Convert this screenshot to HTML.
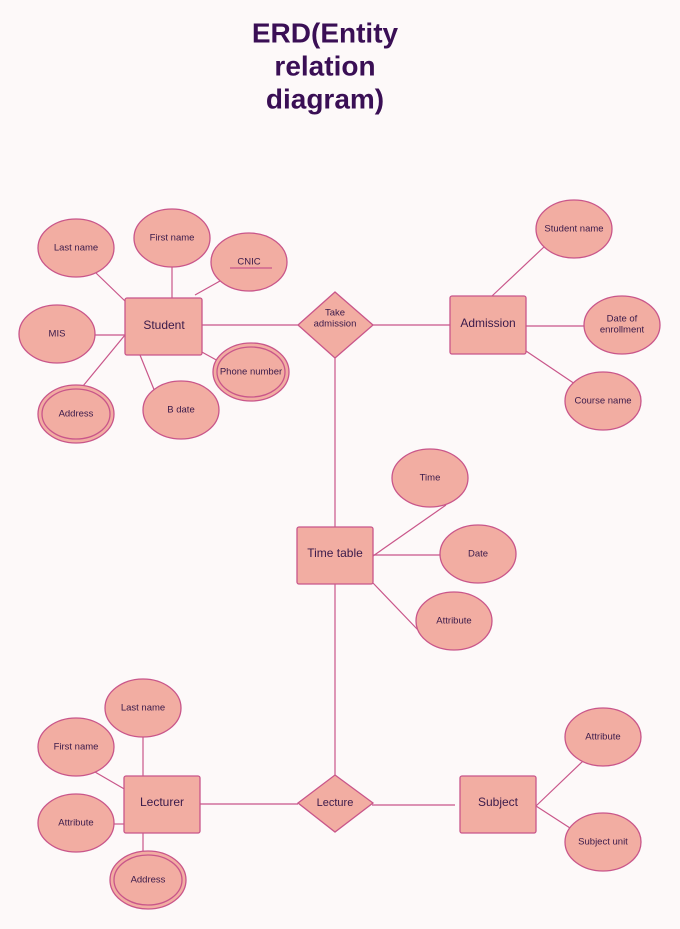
<!DOCTYPE html>
<html><head><meta charset="utf-8"><style>
body{margin:0;background:#fdf9f9;}
svg{display:block}
text{font-family:"Liberation Sans",sans-serif;fill:#3a1a4a;text-anchor:middle;dominant-baseline:middle}
.e{fill:#f2ada2;stroke:#c9568a;stroke-width:1.3}
.l{stroke:#c9568a;stroke-width:1.2;fill:none}
.s{font-size:9.5px}
.b{font-size:12px}
.t{font-size:28px;font-weight:bold;fill:#3a0f55}
</style></head><body>
<svg width="680" height="929" viewBox="0 0 680 929">
<rect width="680" height="929" fill="#fdf9f9"/>
<text class="t" x="325" y="35">ERD(Entity</text>
<text class="t" x="325" y="68">relation</text>
<text class="t" x="325" y="101">diagram)</text>
<!-- lines -->
<g class="l">
<line x1="96" y1="273" x2="126" y2="302"/>
<line x1="172" y1="267" x2="172" y2="298"/>
<line x1="195" y1="295" x2="220" y2="281"/>
<line x1="95" y1="335" x2="125" y2="335"/>
<line x1="83" y1="386" x2="125" y2="335"/>
<line x1="140" y1="355" x2="155" y2="392"/>
<line x1="200" y1="351" x2="220" y2="362"/>
<line x1="202" y1="325" x2="298" y2="325"/>
<line x1="372" y1="325" x2="450" y2="325"/>
<line x1="335" y1="358" x2="335" y2="527"/>
<line x1="492" y1="296" x2="545" y2="246"/>
<line x1="526" y1="326" x2="584" y2="326"/>
<line x1="526" y1="351" x2="575" y2="384"/>
<line x1="373" y1="556" x2="446" y2="505"/>
<line x1="373" y1="555" x2="440" y2="555"/>
<line x1="373" y1="583" x2="418" y2="630"/>
<line x1="335" y1="584" x2="335" y2="775"/>
<line x1="200" y1="804" x2="298" y2="804"/>
<line x1="372" y1="805" x2="455" y2="805"/>
<line x1="143" y1="737" x2="143" y2="776"/>
<line x1="95" y1="772" x2="126" y2="790"/>
<line x1="114" y1="824" x2="124" y2="824"/>
<line x1="143" y1="833" x2="143" y2="852"/>
<line x1="536" y1="806" x2="583" y2="761"/>
<line x1="536" y1="806" x2="570" y2="828"/>
</g>
<!-- ellipses -->
<g>
<ellipse class="e" cx="76" cy="248" rx="38" ry="29"/><text class="s" x="76" y="248">Last name</text>
<ellipse class="e" cx="172" cy="238" rx="38" ry="29"/><text class="s" x="172" y="238">First name</text>
<ellipse class="e" cx="249" cy="262" rx="38" ry="29"/><text class="s" x="249" y="262">CNIC</text>
<line class="l" x1="230" y1="268" x2="272" y2="268"/>
<ellipse class="e" cx="57" cy="334" rx="38" ry="29"/><text class="s" x="57" y="334">MIS</text>
<ellipse class="e" cx="76" cy="414" rx="38" ry="29"/><ellipse class="e" cx="76" cy="414" rx="34" ry="25"/><text class="s" x="76" y="414">Address</text>
<ellipse class="e" cx="181" cy="410" rx="38" ry="29"/><text class="s" x="181" y="410">B date</text>
<ellipse class="e" cx="251" cy="372" rx="38" ry="29"/><ellipse class="e" cx="251" cy="372" rx="34" ry="25"/><text class="s" x="251" y="372">Phone number</text>
<ellipse class="e" cx="574" cy="229" rx="38" ry="29"/><text class="s" x="574" y="229">Student name</text>
<ellipse class="e" cx="622" cy="325" rx="38" ry="29"/><text class="s" x="622" y="319">Date of</text><text class="s" x="622" y="330">enrollment</text>
<ellipse class="e" cx="603" cy="401" rx="38" ry="29"/><text class="s" x="603" y="401">Course name</text>
<ellipse class="e" cx="430" cy="478" rx="38" ry="29"/><text class="s" x="430" y="478">Time</text>
<ellipse class="e" cx="478" cy="554" rx="38" ry="29"/><text class="s" x="478" y="554">Date</text>
<ellipse class="e" cx="454" cy="621" rx="38" ry="29"/><text class="s" x="454" y="621">Attribute</text>
<ellipse class="e" cx="143" cy="708" rx="38" ry="29"/><text class="s" x="143" y="708">Last name</text>
<ellipse class="e" cx="76" cy="747" rx="38" ry="29"/><text class="s" x="76" y="747">First name</text>
<ellipse class="e" cx="76" cy="823" rx="38" ry="29"/><text class="s" x="76" y="823">Attribute</text>
<ellipse class="e" cx="148" cy="880" rx="38" ry="29"/><ellipse class="e" cx="148" cy="880" rx="34" ry="25"/><text class="s" x="148" y="880">Address</text>
<ellipse class="e" cx="603" cy="737" rx="38" ry="29"/><text class="s" x="603" y="737">Attribute</text>
<ellipse class="e" cx="603" cy="842" rx="38" ry="29"/><text class="s" x="603" y="842">Subject unit</text>
</g>
<!-- entities -->
<rect class="e" x="125" y="298" width="77" height="57" rx="2"/><text class="b" x="164" y="326">Student</text>
<rect class="e" x="450" y="296" width="76" height="58" rx="2"/><text class="b" x="488" y="324">Admission</text>
<rect class="e" x="297" y="527" width="76" height="57" rx="2"/><text class="b" x="335" y="554">Time table</text>
<rect class="e" x="124" y="776" width="76" height="57" rx="2"/><text class="b" x="162" y="803">Lecturer</text>
<rect class="e" x="460" y="776" width="76" height="57" rx="2"/><text class="b" x="498" y="803">Subject</text>
<!-- relationships -->
<polygon class="e" points="335,292 373,325 335,358 298,325"/>
<text class="s" x="335" y="313">Take</text><text class="s" x="335" y="324">admission</text>
<polygon class="e" points="335,775 373,803 335,832 298,803"/>
<text class="b" x="335" y="803" style="font-size:11px">Lecture</text>
</svg>
</body></html>
